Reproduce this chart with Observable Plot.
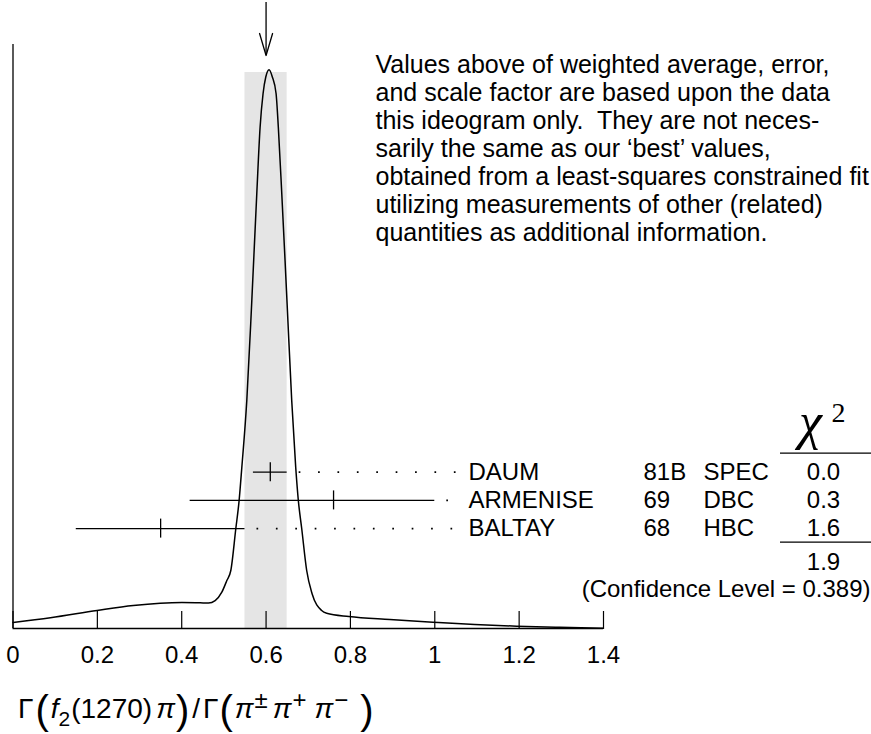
<!DOCTYPE html>
<html><head><meta charset="utf-8">
<script src="https://cdn.jsdelivr.net/npm/d3@7"></script>
<script src="https://cdn.jsdelivr.net/npm/@observablehq/plot@0.6"></script>
<style>html,body{margin:0;padding:0;background:#fff}#chart svg{display:block}</style>
</head><body><div id="chart"></div>
<script>
// ---- data ----
const curveX = [0, 0.0888, 0.1993, 0.2852, 0.3491, 0.4005, 0.4438, 0.4634, 0.4793, 0.4951, 0.507, 0.5164, 0.5283, 0.5361, 0.5425, 0.5543, 0.5662, 0.578, 0.5858, 0.5929, 0.5993, 0.6071, 0.6149, 0.6237, 0.6291, 0.6372, 0.645, 0.6504, 0.6608, 0.6703, 0.6765, 0.6845, 0.6963, 0.7089, 0.7318, 0.7437, 0.7964, 0.8935, 0.9953, 1.0947, 1.1941, 1.2959, 1.4];
const curveY = [0.0103, 0.0183, 0.0308, 0.0394, 0.0433, 0.0445, 0.0440, 0.0437, 0.0479, 0.0622, 0.0822, 0.0993, 0.1712, 0.2192, 0.2757, 0.3904, 0.5616, 0.7449, 0.8579, 0.9161, 0.9443, 0.9567, 0.9443, 0.9161, 0.8579, 0.7449, 0.6301, 0.5479, 0.3904, 0.2757, 0.2192, 0.1712, 0.0993, 0.0599, 0.0308, 0.0262, 0.0205, 0.0154, 0.0108, 0.0068, 0.0039, 0.0021, 0.0005];
const names = ["DAUM", "ARMENISE", "BALTAY"];
const years = ["81B", "69", "68"];
const techniques = ["SPEC", "DBC", "HBC"];
const values = [0.61, 0.76, 0.35];
const errLow = [0.04, 0.34, 0.20];
const errHigh = [0.04, 0.24, 0.20];
const chi2 = ["0.0", "0.3", "1.6"];
const chi2Total = "1.9";
const confidenceLevel = "0.389";
const weightedAverage = 0.60;
const averageError = 0.05;
const xTicks = [0, 0.2, 0.4, 0.6, 0.8, 1, 1.2, 1.4];
const noteLines = [
  "Values above of weighted average, error,",
  "and scale factor are based upon the data",
  "this ideogram only.  They are not neces-",
  "sarily the same as our \u2018best\u2019 values,",
  "obtained from a least-squares constrained fit",
  "utilizing measurements of other (related)",
  "quantities as additional information."
];

// ---- layout ----
const W = 871, H = 734, ML = 12.5, MR = 268, MT = 44, MB = 106;
const XMAX = 1.4;
const X = px => (px - ML) / (W - ML - MR) * XMAX;   // pixel -> x data (for annotations)
const Y = py => (H - MB - py) / (H - MB - MT);      // pixel -> y data (for annotations)
const rowPx = i => 471.7 + 28.2 * i;

const curve = curveX.map((x, i) => ({x, y: curveY[i]}));
const rows = names.map((n, i) => ({
  name: n, year: years[i], tech: techniques[i], v: values[i],
  lo: values[i] - errLow[i], hi: values[i] + errHigh[i], chi: chi2[i], y: Y(rowPx(i))
}));
const font = "Liberation Sans, Arial, Helvetica, sans-serif";
const serif = "Liberation Serif, Times New Roman, serif";
const tickH = 9.5 / (H - MB - MT);

const headPts = [
  {x: weightedAverage - X(ML + 6.5), y: Y(33)},
  {x: weightedAverage, y: Y(55)},
  {x: weightedAverage + X(ML + 6.5), y: Y(33)}
];

const plot = Plot.plot({
  width: W, height: H,
  marginLeft: ML, marginRight: MR, marginTop: MT, marginBottom: MB,
  x: {domain: [0, XMAX], axis: null},
  y: {domain: [0, 1], axis: null},
  style: {fontFamily: font, background: "#fff", color: "#000"},
  marks: [
    Plot.rect([{x1: weightedAverage - averageError, x2: weightedAverage + averageError}],
      {x1: "x1", x2: "x2", y1: 0, y2: Y(72), fill: "#e5e5e5"}),
    Plot.line(curve, {x: "x", y: "y", curve: "monotone-x", stroke: "#000", strokeWidth: 1.5}),
    Plot.ruleX([0], {y1: 0, y2: 1, stroke: "#000", strokeWidth: 1.3}),
    Plot.ruleY([0], {x1: 0, x2: XMAX, stroke: "#000", strokeWidth: 1.3}),
    Plot.ruleX(xTicks, {x: d => d, y1: 0, y2: Y(611), stroke: "#000", strokeWidth: 1.2}),
    Plot.text(xTicks, {x: d => d, y: 0, dy: 27, text: d => String(d), fontSize: 24, fill: "#000"}),
    // leaders
    Plot.ruleY(rows, {y: "y", x1: "hi", x2: X(457), stroke: "#000", strokeWidth: 1.7,
      strokeDasharray: "1.7,17.7", strokeDashoffset: 7.4}),
    // error bars
    Plot.ruleY(rows, {y: "y", x1: "lo", x2: "hi", stroke: "#000", strokeWidth: 1.3}),
    Plot.ruleX(rows, {x: "v", y1: d => d.y - tickH, y2: d => d.y + tickH, stroke: "#000", strokeWidth: 1.3}),
    // arrow to weighted average
    Plot.ruleX([weightedAverage], {x: d => d, y1: Y(2), y2: Y(55), stroke: "#000", strokeWidth: 1.3}),
    Plot.line(headPts, {x: "x", y: "y", stroke: "#000", strokeWidth: 1.3}),
    // table
    Plot.text(rows, {x: X(468), y: "y", text: "name", textAnchor: "start", fontSize: 24, fill: "#000"}),
    Plot.text(rows, {x: X(643), y: "y", text: "year", textAnchor: "start", fontSize: 24, fill: "#000"}),
    Plot.text(rows, {x: X(703), y: "y", text: "tech", textAnchor: "start", fontSize: 24, fill: "#000"}),
    Plot.text(rows, {x: X(823), y: "y", text: "chi", textAnchor: "middle", fontSize: 24, fill: "#000"}),
    Plot.text([chi2Total], {x: X(823), y: Y(561.7), text: d => d, textAnchor: "middle", fontSize: 24, fill: "#000"}),
    Plot.text([`(Confidence Level = ${confidenceLevel})`], {x: X(870), y: Y(589), text: d => d, textAnchor: "end", fontSize: 24, fill: "#000"}),
    Plot.ruleY([Y(452.7)], {x1: X(780), x2: X(871), stroke: "#000", strokeWidth: 1.3}),
    Plot.ruleY([Y(541.7)], {x1: X(780), x2: X(871), stroke: "#000", strokeWidth: 1.3}),
    Plot.text(["\u03C7"], {x: X(810), y: Y(438), text: d => d, textAnchor: "middle", lineAnchor: "bottom", fontSize: 52, fontFamily: serif, fontStyle: "italic", fill: "#000"}),
    Plot.text(["2"], {x: X(831), y: Y(421), text: d => d, textAnchor: "start", lineAnchor: "bottom", fontSize: 28, fontFamily: serif, fill: "#000"}),
    // note
    Plot.text([noteLines.join("\n")], {x: X(375), y: Y(53), text: d => d, textAnchor: "start", lineAnchor: "top", lineHeight: 1.12, fontSize: 25, fill: "#000"})
  ]
});
document.getElementById("chart").appendChild(plot);

// axis title Γ(f2(1270)π)/Γ(π±π+π−)
const svg = d3.select(plot);
const t = svg.append("text").attr("x", 18).attr("y", 718).attr("text-anchor", "start")
  .attr("font-family", font).attr("font-size", 28).attr("fill", "#000");
const parts = [
  ["\u0393", {}],
  ["(", {size: 40, dy: 6, dx: 2}],
  ["f", {style: "italic", dy: -6, dx: 2}],
  ["2", {size: 21, dy: 8}],
  ["(1270)", {dy: -8, dx: 1}],
  ["\u03C0", {style: "italic", dx: 4}],
  [")", {size: 40, dy: 6, dx: 1}],
  ["/", {dy: -6, dx: 3}],
  ["\u0393", {dx: 3}],
  ["(", {size: 40, dy: 6, dx: 1}],
  ["\u03C0", {style: "italic", dy: -6, dx: 2}],
  ["\u00B1", {size: 24, dy: -10, dx: 1}],
  ["\u03C0", {style: "italic", dy: 10, dx: 5}],
  ["+", {size: 24, dy: -10, dx: 1}],
  ["\u03C0", {style: "italic", dy: 10, dx: 8}],
  ["\u2212", {size: 24, dy: -10, dx: 1}],
  [")", {size: 40, dy: 16, dx: 12}]
];
for (const [s, o] of parts) {
  const sp = t.append("tspan").text(s);
  if (o.size) sp.attr("font-size", o.size);
  if (o.style) sp.attr("font-style", o.style);
  if (o.dy) sp.attr("dy", o.dy);
  if (o.dx) sp.attr("dx", o.dx);
}
</script>
</body></html>
